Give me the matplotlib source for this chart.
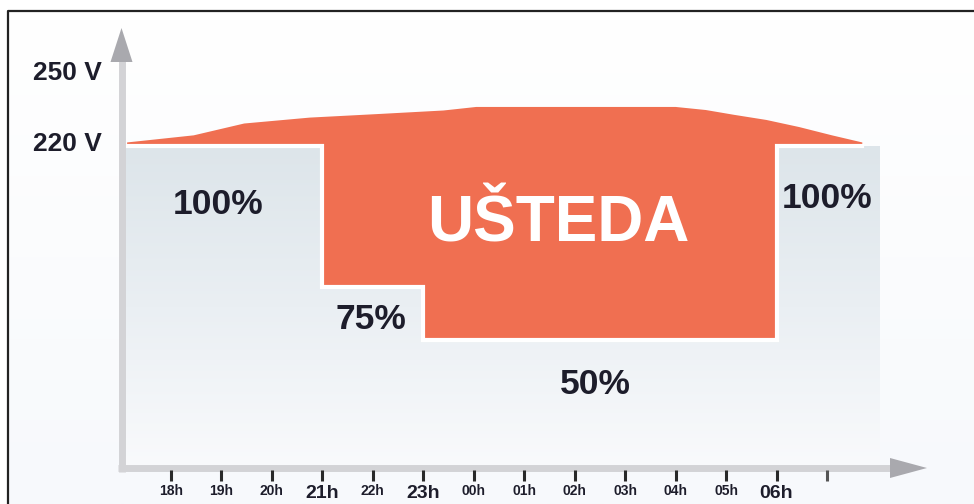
import numpy as np
import matplotlib
matplotlib.use("Agg")
import matplotlib.pyplot as plt
from matplotlib.colors import LinearSegmentedColormap

# ---------------- data ----------------
hour_labels = ['18h', '19h', '20h', '21h', '22h', '23h', '00h', '01h',
               '02h', '03h', '04h', '05h', '06h', '']
big_labels = ['21h', '23h', '06h']
volt_ticks = [250, 220]
volt_labels = ['250 V', '220 V']

# mains voltage envelope (top of the saving area), x = hour index from 18h
curve_x = [-0.87, 0.45, 1.45, 2.75, 4.1, 5.4, 6.05, 10.0, 10.6, 11.15,
           11.8, 12.45, 13.1, 13.7]
curve_v = [221.5, 224.5, 229.5, 232.0, 233.5, 235.0, 236.5, 236.5, 235.2,
           233.2, 231.0, 228.0, 224.5, 221.5]

# dimming schedule: boundaries (hour index) and level per interval
step_x = [-0.91, 3.0, 5.0, 12.0, 14.05]
level_pct = [100, 75, 50, 100]
level_v = [220.0, 160.5, 138.0, 220.0]   # displayed height of each level
axis_bottom_v = 84.0
saving_label = 'UŠTEDA'

# ---------------- layout helpers (pixel -> data) ----------------
X0, DX, Y220, PXV = 171.0, 50.46, 146.0, 2.367
def X(px):
    return (px - X0) / DX
def Y(py):
    return 220.0 + (Y220 - py) / PXV

RED = '#F06F51'
TXT = '#1d1d2b'
AXC = '#d3d3d6'
HEAD = '#a9a9ae'
FONT = ['Liberation Sans', 'DejaVu Sans']

fig = plt.figure(figsize=(9.74, 5.04), dpi=100)
ax = fig.add_axes([0, 0, 1, 1])
ax.axis('off')

# background inside the frame
bg = LinearSegmentedColormap.from_list('bg', ['#ffffff', '#f7f9fc'])
ax.imshow(np.linspace(0, 1, 200).reshape(-1, 1), cmap=bg, aspect='auto',
          extent=(X(8), X(974), Y(504), Y(11)), zorder=0)

# gray (lamp power) area gradient
gcm = LinearSegmentedColormap.from_list('g', ['#dde5ea', '#eaeff3', '#f9fafc'])
ax.imshow(np.linspace(0, 1, 200).reshape(-1, 1), cmap=gcm, aspect='auto',
          extent=(step_x[0], step_x[-1], axis_bottom_v, level_v[0]), zorder=1)

# saving area (red)
poly = list(zip(curve_x, curve_v))
poly += [(curve_x[-1], level_v[3]), (step_x[3], level_v[3]),
         (step_x[3], level_v[2]), (step_x[2], level_v[2]),
         (step_x[2], level_v[1]), (step_x[1], level_v[1]),
         (step_x[1], level_v[0]), (curve_x[0], level_v[0])]
px_, py_ = zip(*poly)
ax.fill(px_, py_, color=RED, lw=0, zorder=2)

# white separating line along the dimming profile
sx = [step_x[0], step_x[1], step_x[1], step_x[2], step_x[2], step_x[3], step_x[3], curve_x[-1]]
sy = [level_v[0], level_v[0], level_v[1], level_v[1], level_v[2], level_v[2], level_v[3], level_v[3]]
ax.plot(sx, sy, color='white', lw=3.0, solid_joinstyle='miter', zorder=3)

# axes (thick gray lines with arrow heads)
ax.plot([X(121.5), X(121.5)], [Y(472), Y(60)], color=AXC, lw=5.0,
        solid_capstyle='butt', zorder=4)
ax.plot([X(118), X(891)], [Y(468), Y(468)], color=AXC, lw=5.0,
        solid_capstyle='butt', zorder=4)
ax.fill([X(110.5), X(132.5), X(121.5)], [Y(62), Y(62), Y(28)], color=HEAD,
        lw=0, zorder=5)
ax.fill([X(890), X(890), X(927)], [Y(458), Y(478), Y(468)], color=HEAD,
        lw=0, zorder=5)

# frame
ax.plot([X(8), X(8), X(980)], [Y(510), Y(11), Y(11)], color='#222222',
        lw=1.6, zorder=6)

# ticks and hour labels
for i, lab in enumerate(hour_labels):
    ax.plot([i, i], [Y(470), Y(481)], color='#2a2a2a' if lab else '#555555',
            lw=2.2, solid_capstyle='butt', zorder=6)
    if lab:
        big = lab in big_labels
        ax.text(i, Y(494 if big else 491), lab, ha='center', va='center',
                fontsize=14 if big else 10, fontweight='bold', color=TXT,
                family=FONT, zorder=7)

# voltage labels
for v, lab in zip(volt_ticks, volt_labels):
    ax.text(X(33), Y(Y220 - (v - 220) * PXV - 2), lab, ha='left', va='center',
            fontsize=19, fontweight='bold', color=TXT, family=FONT, zorder=7)

# level percentages
ax.text(X(218), Y(205), f'{level_pct[0]}%', ha='center', va='center',
        fontsize=25.5, fontweight='bold', color=TXT, family=FONT, zorder=7)
ax.text(X(371), Y(320), f'{level_pct[1]}%', ha='center', va='center',
        fontsize=25.5, fontweight='bold', color=TXT, family=FONT, zorder=7)
ax.text(X(595), Y(385), f'{level_pct[2]}%', ha='center', va='center',
        fontsize=25.5, fontweight='bold', color=TXT, family=FONT, zorder=7)
ax.text(X(827), Y(198), f'{level_pct[3]}%', ha='center', va='center',
        fontsize=25.5, fontweight='bold', color=TXT, family=FONT, zorder=7)

# saving label
ax.text(X(558), Y(242), saving_label, ha='center', va='baseline',
        fontsize=46, fontweight='bold', color='white', family=FONT, zorder=7)

ax.set_xlim(X(0), X(974))
ax.set_ylim(Y(504), Y(0))
fig.savefig('out.png', dpi=100)
